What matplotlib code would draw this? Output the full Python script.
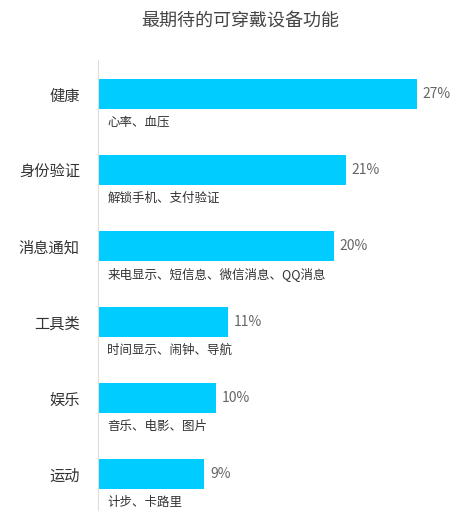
import matplotlib
matplotlib.use("Agg")
import matplotlib.pyplot as plt

plt.rcParams['font.family'] = ['Noto Sans CJK SC', 'DejaVu Sans']

categories = ["健康", "身份验证", "消息通知", "工具类", "娱乐", "运动"]
values = [27, 21, 20, 11, 10, 9]
details = ["心率、血压", "解锁手机、支付验证", "来电显示、短信息、微信消息、QQ消息",
           "时间显示、闹钟、导航", "音乐、电影、图片", "计步、卡路里"]
title = "最期待的可穿戴设备功能"

fig = plt.figure(figsize=(4.68, 5.30), dpi=100)
ax = fig.add_axes([98/468, 20/530, 354/468, 450/530])
ypos = list(range(len(categories)))
ax.barh(ypos, values, height=0.39, color="#00CCFF")
ax.set_xlim(0, 30)
ax.set_ylim(5.47, -0.45)
for y, v, d in zip(ypos, values, details):
    ax.text(v + 0.5, y, f"{v}%", va="center", ha="left", fontsize=10, color="#666666")
    ax.text(0.8, y + 0.37, d, va="center", ha="left", fontsize=9, color="#333333")
ax.set_yticks(ypos)
ax.set_yticklabels(categories, fontsize=11, color="#333333")
ax.tick_params(axis="y", length=0, pad=13)
ax.set_xticks([])
for s in ["top", "right", "bottom"]:
    ax.spines[s].set_visible(False)
ax.spines["left"].set_color("#dddddd")
fig.text(240/468, 1 - 22/530, title, ha="center", va="center", fontsize=13, color="#444444")
fig.savefig("out.png", dpi=100)
